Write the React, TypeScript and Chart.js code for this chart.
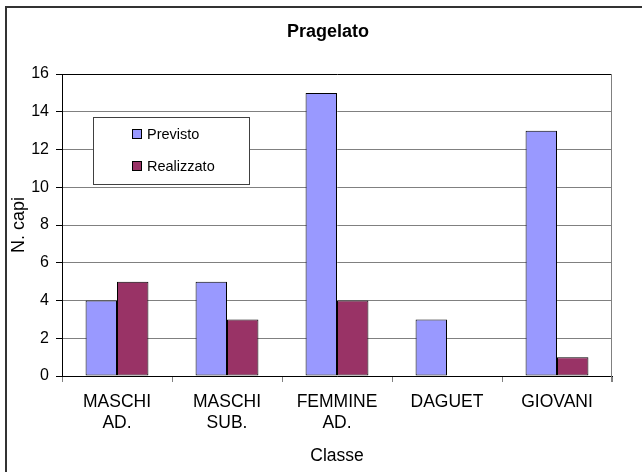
import React, { useEffect, useRef } from "react";
import { Chart, registerables } from "chart.js";

Chart.register(...registerables);

const categories: string[][] = [["MASCHI", "AD."], ["MASCHI", "SUB."], ["FEMMINE", "AD."], ["DAGUET"], ["GIOVANI"]];
const previsto = [4, 5, 15, 3, 13];
const realizzato = [5, 3, 4, 0, 1];
const seriesNames = ["Previsto", "Realizzato"];
const seriesColors = ["#9999FF", "#993366"];
const chartTitle = "Pragelato";
const xTitle = "Classe";
const yTitle = "N. capi";
const yMin = 0;
const yMax = 16;
const yStep = 2;

const FONT = "'Liberation Sans', Arial, sans-serif";

const decorPlugin = {
  id: "decor",
  afterDraw(chart: any) {
    const ctx = chart.ctx as CanvasRenderingContext2D;
    const a = chart.chartArea;
    ctx.save();
    // outer frame (only top & left visible)
    ctx.fillStyle = "#333333";
    ctx.fillRect(5, 6, chart.width - 5, 2);
    ctx.fillRect(5, 6, 2, chart.height - 6);
    // plot area right border
    ctx.strokeStyle = "#808080";
    ctx.lineWidth = 1;
    const rx = Math.round(a.right) - 0.5;
    ctx.beginPath();
    ctx.moveTo(rx, a.top);
    ctx.lineTo(rx, a.bottom + 6);
    ctx.stroke();
    // title
    ctx.font = `bold 18px ${FONT}`;
    ctx.fillStyle = "#000";
    ctx.textAlign = "center";
    ctx.textBaseline = "middle";
    ctx.fillText(chartTitle, 328, 32);
    // legend box
    const lx = a.left + 31;
    const ly = a.top + 43;
    const lw = 156;
    const lh = 67;
    ctx.fillStyle = "#ffffff";
    ctx.fillRect(lx, ly, lw, lh);
    ctx.strokeStyle = "#404040";
    ctx.strokeRect(lx + 0.5, ly + 0.5, lw, lh);
    ctx.font = `14.5px ${FONT}`;
    ctx.textAlign = "left";
    chart.data.datasets.forEach((ds: any, i: number) => {
      const cy = ly + 17 + i * 32;
      ctx.fillStyle = ds.backgroundColor;
      ctx.fillRect(lx + 39, cy - 4.5, 9, 9);
      ctx.strokeStyle = "#000";
      ctx.strokeRect(lx + 39.5, cy - 4.5, 9, 9);
      ctx.fillStyle = "#000";
      ctx.fillText(ds.label, lx + 54, cy + 0.5);
    });
    ctx.restore();
  },
};

export default function App() {
  const ref = useRef<HTMLCanvasElement>(null);
  useEffect(() => {
    if (!ref.current) return;
    const chart = new Chart(ref.current, {
      type: "bar",
      data: {
        labels: categories as any,
        datasets: [
          {
            label: seriesNames[0],
            data: previsto,
            backgroundColor: seriesColors[0],
            borderColor: "#000",
            borderWidth: 1,
            borderSkipped: false,
          },
          {
            label: seriesNames[1],
            data: realizzato,
            backgroundColor: seriesColors[1],
            borderColor: "#000",
            borderWidth: 1,
            borderSkipped: false,
          },
        ],
      },
      options: {
        responsive: false,
        animation: false,
        devicePixelRatio: 1,
        layout: { padding: { top: 74, right: 30, left: 0, bottom: 0 } },
        datasets: { bar: { categoryPercentage: 2 / 3.5, barPercentage: 1 } },
        plugins: {
          legend: { display: false },
          title: { display: false },
          tooltip: { enabled: false },
        },
        scales: {
          x: {
            afterFit: (s: any) => {
              s.height = 96;
            },
            grid: {
              offset: true,
              drawOnChartArea: false,
              tickLength: 6,
              tickColor: "#808080",
            },
            border: { color: "#000", width: 1 },
            ticks: {
              color: "#000",
              font: { family: FONT, size: 17.5 },
              padding: 10,
              maxRotation: 0,
              autoSkip: false,
            },
            title: {
              display: true,
              text: xTitle,
              color: "#000",
              font: { family: FONT, size: 17.5 },
              padding: { top: 0, bottom: 5 },
            },
          },
          y: {
            min: yMin,
            max: yMax,
            afterFit: (s: any) => {
              s.width = 62;
            },
            grid: {
              color: (c: any) => (c.tick && c.tick.value === yMax ? "#000" : "#808080"),
              tickColor: "#000",
              tickLength: 6,
            },
            border: { color: "#000", width: 1 },
            ticks: {
              stepSize: yStep,
              color: "#000",
              font: { family: FONT, size: 16 },
              padding: 7,
            },
            title: {
              display: true,
              text: yTitle,
              color: "#000",
              font: { family: FONT, size: 18 },
              padding: { top: 8, bottom: 0 },
            },
          },
        },
      },
      plugins: [decorPlugin],
    });
    return () => chart.destroy();
  }, []);
  return (
    <div style={{ position: "fixed", left: 0, top: 0, width: 642, height: 472, background: "#fff" }}>
      <canvas ref={ref} width={642} height={472} style={{ display: "block", width: 642, height: 472 }} />
    </div>
  );
}
